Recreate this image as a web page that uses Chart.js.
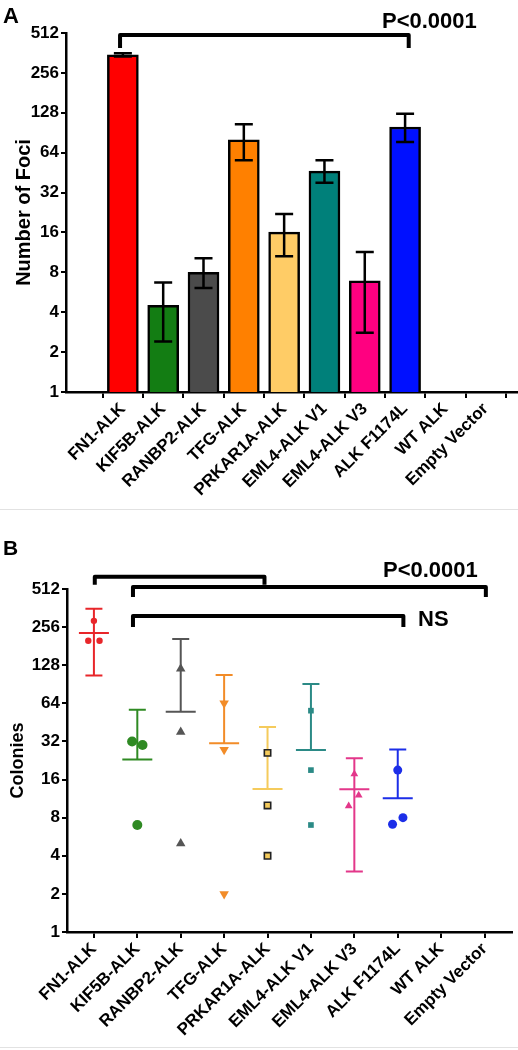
<!DOCTYPE html>
<html>
<head>
<meta charset="utf-8">
<script src="https://cdn.jsdelivr.net/npm/chart.js@4.4.1/dist/chart.umd.min.js"></script>
<style>
  body { margin: 0; background: #fff; }
  #wrap { position: relative; width: 518px; height: 1050px; overflow: hidden; background: #fff; }
  canvas { position: absolute; left: 0; }
  #chartA { top: 0; }
  #chartB { top: 520px; }
  .sep { position: absolute; left: 0; width: 518px; height: 1px; background: #e2e2e2; }
</style>
</head>
<body>
<div id="wrap">
  <canvas id="chartA" width="518" height="512"></canvas>
  <div class="sep" style="top:509px"></div>
  <canvas id="chartB" width="518" height="530"></canvas>
  <div class="sep" style="top:1047px"></div>
</div>
<script>
// Datos comunes
const categories = ["FN1-ALK", "KIF5B-ALK", "RANBP2-ALK", "TFG-ALK", "PRKAR1A-ALK",
  "EML4-ALK V1", "EML4-ALK V3", "ALK F1174L", "WT ALK", "Empty Vector"];
const yTicks = [1, 2, 4, 8, 16, 32, 64, 128, 256, 512];

// Panel A: número de focos
const fociMean = [350, 4.5, 8, 80, 16.1, 46.5, 6.9, 100, null, null];
const fociHigh = [360, 6.7, 10.2, 105, 22, 56, 11.4, 126, null, null];
const fociLow  = [340, 2.4, 6.1, 56, 10.6, 38, 2.8, 77, null, null];
const barColors = ["#ff0000", "#137d13", "#4b4b4b", "#ff8000", "#ffcc66", "#00807a", "#ff0080", "#0010ff", "#fff", "#fff"];

// Panel B: colonias (puntos individuales, media y DE)
const colonyPoints = [[287, 200, 200], [32, 30, 7], [120, 38, 5], [64, 27.5, 2], [26, 10, 4],
  [56, 19, 7], [17.7, 12, 9.9], [19, 8, 7.1]];
const colonyJitter = [[0, -0.13, 0.13], [-0.12, 0.12, 0], [0, 0, 0], [0, 0, 0], [0, 0, 0],
  [0, 0, 0], [0, 0.1, -0.13], [0, 0.12, -0.12]];
const colonyMean = [230, 23, 55, 31, 13.5, 27.4, 13.4, 11.4];
const colonyHigh = [357, 57, 206, 107, 41.6, 91, 23.6, 27.7];
const colonyLow  = [106, null, null, null, null, null, 3.0, null];
const colonyColors = ["#e8262a", "#2f8a23", "#555555", "#f28c28", "#f5cb5c", "#2b8a86", "#e3378a", "#1c2ee8"];
const colonyMarkers = ["circle", "circle", "triangle", "triangle", "rect", "rect", "triangle", "circle"];

Chart.defaults.font.family = "'Liberation Sans', Arial, sans-serif";
Chart.defaults.font.weight = "bold";
Chart.defaults.color = "#000";

// Escalas compartidas
function xAxis(min, max, height) {
  return {
    type: "linear", min: min, max: max,
    afterBuildTicks: s => { s.ticks = categories.map((c, i) => ({ value: i })); },
    afterFit: s => { s.height = height; s.paddingLeft = 0; s.paddingRight = 0; },
    ticks: { callback: v => categories[v], autoSkip: false, maxRotation: 45, minRotation: 45,
      font: { size: 17 }, padding: 1 },
    grid: { drawOnChartArea: false, color: "#000", lineWidth: 2, tickLength: 6 },
    border: { color: "#000", width: 2.5 }
  };
}
function yAxis(width, title, titleSize, titlePad) {
  return {
    type: "logarithmic", min: 1, max: 512,
    afterBuildTicks: s => { s.ticks = yTicks.map(v => ({ value: v })); },
    afterFit: s => { s.width = width; s.paddingTop = 0; s.paddingBottom = 0; },
    ticks: { callback: v => String(v), autoSkip: false, font: { size: 17 }, padding: 2 },
    grid: { drawOnChartArea: false, color: "#000", lineWidth: 2, tickLength: 5 },
    border: { color: "#000", width: 2.5 },
    title: { display: true, text: title, font: { size: titleSize }, padding: { top: titlePad, bottom: 0 } }
  };
}

// Corchetes y textos
const annotations = {
  id: "annotations",
  afterDraw(chart, args, opts) {
    const { ctx, scales: { x, y } } = chart;
    ctx.save();
    ctx.strokeStyle = "#000";
    ctx.lineWidth = 4;
    ctx.lineJoin = "round";
    opts.brackets.forEach(b => {
      const x0 = x.getPixelForValue(b[0]), x1 = x.getPixelForValue(b[1]);
      const yt = y.getPixelForValue(b[2]), yl = y.getPixelForValue(b[3]);
      ctx.beginPath();
      ctx.moveTo(x0, yl); ctx.lineTo(x0, yt); ctx.lineTo(x1, yt); ctx.lineTo(x1, yl);
      ctx.stroke();
    });
    ctx.fillStyle = "#000";
    ctx.textBaseline = "alphabetic";
    opts.texts.forEach(t => {
      ctx.font = "bold " + t.size + "px 'Liberation Sans', Arial, sans-serif";
      ctx.fillText(t.text, t.x, t.y);
    });
    ctx.restore();
  }
};

// Barras de error del panel A
const fociErrors = {
  id: "fociErrors",
  afterDatasetsDraw(chart) {
    const { ctx, scales: { x, y } } = chart;
    ctx.save();
    ctx.strokeStyle = "#000";
    ctx.lineWidth = 2.5;
    fociMean.forEach((m, i) => {
      if (m == null) return;
      const px = x.getPixelForValue(i);
      const top = y.getPixelForValue(fociHigh[i]);
      const bot = y.getPixelForValue(fociLow[i]);
      ctx.beginPath();
      ctx.moveTo(px, top); ctx.lineTo(px, bot);
      ctx.moveTo(px - 9, top); ctx.lineTo(px + 9, top);
      ctx.moveTo(px - 9, bot); ctx.lineTo(px + 9, bot);
      ctx.stroke();
    });
    ctx.restore();
  }
};

// Media y DE del panel B
const colonyStats = {
  id: "colonyStats",
  beforeDatasetsDraw(chart) {
    const { ctx, scales: { x, y } } = chart;
    ctx.save();
    ctx.lineWidth = 2;
    colonyMean.forEach((m, i) => {
      const px = x.getPixelForValue(i);
      const pm = y.getPixelForValue(m);
      const ph = y.getPixelForValue(colonyHigh[i]);
      const pl = colonyLow[i] == null ? pm : y.getPixelForValue(colonyLow[i]);
      ctx.strokeStyle = colonyColors[i];
      ctx.beginPath();
      ctx.moveTo(px, ph); ctx.lineTo(px, pl);
      ctx.moveTo(px - 8.5, ph); ctx.lineTo(px + 8.5, ph);
      if (colonyLow[i] != null) { ctx.moveTo(px - 8.5, pl); ctx.lineTo(px + 8.5, pl); }
      ctx.moveTo(px - 15, pm); ctx.lineTo(px + 15, pm);
      ctx.stroke();
    });
    ctx.restore();
  }
};

new Chart(document.getElementById("chartA"), {
  type: "bar",
  data: {
    datasets: [{
      data: fociMean.map((v, i) => ({ x: i, y: v })),
      backgroundColor: barColors,
      borderColor: "#000",
      borderWidth: 2.5,
      barThickness: 31
    }]
  },
  options: {
    responsive: false, animation: false, devicePixelRatio: 1,
    layout: { padding: { top: 33, right: 0, left: 0, bottom: 0 } },
    plugins: {
      legend: { display: false }, tooltip: { enabled: false },
      annotations: {
        brackets: [[-0.07, 7.09, 494, 394]],
        texts: [{ text: "A", x: 3, y: 23, size: 22 }, { text: "P<0.0001", x: 382, y: 28, size: 22 }]
      }
    },
    scales: { x: xAxis(-0.85, 9.24, 120), y: yAxis(66, "Number of Foci", 20, 12) }
  },
  plugins: [fociErrors, annotations]
});

new Chart(document.getElementById("chartB"), {
  type: "scatter",
  data: {
    datasets: colonyPoints.map((pts, i) => ({
      data: pts.map((v, k) => ({ x: i + colonyJitter[i][k], y: v })),
      pointStyle: colonyMarkers[i],
      rotation: i === 3 ? 180 : 0,
      backgroundColor: colonyColors[i],
      borderColor: i === 4 ? "#222" : colonyColors[i],
      borderWidth: i === 4 ? 1.6 : 0,
      pointRadius: [3.2, 5, 5.5, 5.5, 4.5, 4, 4.5, 4.5][i]
    }))
  },
  options: {
    responsive: false, animation: false, devicePixelRatio: 1,
    layout: { padding: { top: 69, right: 5, left: 0, bottom: 0 } },
    plugins: {
      legend: { display: false }, tooltip: { enabled: false },
      annotations: {
        brackets: [[0.02, 3.93, 639, 552], [0.9, 9.03, 532, 443], [0.9, 7.13, 314, 256]],
        texts: [{ text: "B", x: 3, y: 35, size: 21 }, { text: "P<0.0001", x: 383, y: 57, size: 22 },
          { text: "NS", x: 418, y: 106, size: 22 }]
      }
    },
    scales: { x: xAxis(-0.62, 9.63, 118), y: yAxis(67, "Colonies", 18, 7) }
  },
  plugins: [colonyStats, annotations]
});
</script>
</body>
</html>
